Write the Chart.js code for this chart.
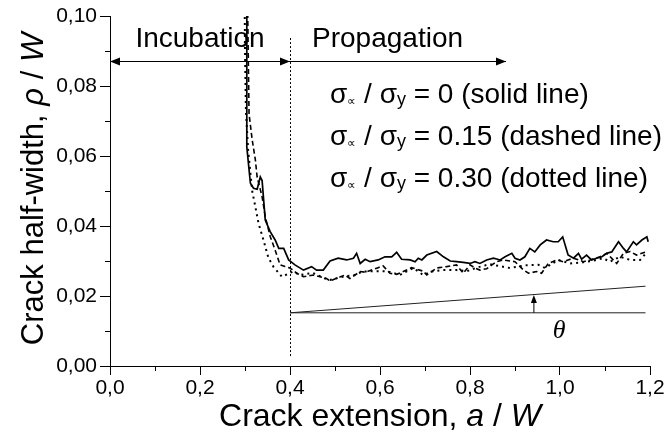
<!DOCTYPE html>
<html>
<head>
<meta charset="utf-8">
<script src="https://cdn.jsdelivr.net/npm/chart.js@4.4.1/dist/chart.umd.min.js"></script>
<style>
  body { margin: 0; background: #fff; }
</style>
</head>
<body>
<canvas id="myChart" width="666" height="439"></canvas>
<script>
// sigma / sigma_y = 0 (solid line)
const solidX = [0.304, 0.304, 0.312, 0.319, 0.327, 0.334, 0.338, 0.345, 0.356, 0.367, 0.375, 0.386, 0.397, 0.411, 0.430, 0.448, 0.459, 0.474, 0.489, 0.507, 0.526, 0.541, 0.548, 0.556, 0.567, 0.578, 0.596, 0.611, 0.626, 0.637, 0.648, 0.667, 0.678, 0.685, 0.693, 0.704, 0.726, 0.741, 0.756, 0.770, 0.785, 0.800, 0.811, 0.822, 0.837, 0.852, 0.867, 0.878, 0.893, 0.900, 0.911, 0.922, 0.933, 0.944, 0.956, 0.970, 0.985, 0.996, 1.006, 1.018, 1.030, 1.041, 1.048, 1.059, 1.070, 1.081, 1.093, 1.104, 1.115, 1.130, 1.141, 1.148, 1.163, 1.170, 1.182, 1.193, 1.196];
const solidY = [0.110, 0.0626, 0.0522, 0.0508, 0.0505, 0.0540, 0.0530, 0.0417, 0.0384, 0.0360, 0.0336, 0.0336, 0.0303, 0.0289, 0.0274, 0.0284, 0.0274, 0.0274, 0.0300, 0.0308, 0.0303, 0.0308, 0.0322, 0.0293, 0.0305, 0.0298, 0.0303, 0.0312, 0.0312, 0.0325, 0.0305, 0.0303, 0.0298, 0.0308, 0.0303, 0.0317, 0.0327, 0.0312, 0.0300, 0.0298, 0.0296, 0.0293, 0.0298, 0.0293, 0.0303, 0.0308, 0.0303, 0.0312, 0.0322, 0.0308, 0.0303, 0.0312, 0.0336, 0.0326, 0.0346, 0.0360, 0.0355, 0.0355, 0.0369, 0.0317, 0.0308, 0.0322, 0.0305, 0.0317, 0.0303, 0.0308, 0.0312, 0.0322, 0.0326, 0.0355, 0.0336, 0.0326, 0.0355, 0.0346, 0.0360, 0.0369, 0.0355];

// 0.15 (dashed line)
const dashedX = [0.305, 0.309, 0.316, 0.323, 0.327, 0.338, 0.345, 0.356, 0.367, 0.378, 0.389, 0.400, 0.415, 0.430, 0.452, 0.481, 0.489, 0.522, 0.533, 0.556, 0.567, 0.596, 0.607, 0.622, 0.637, 0.659, 0.670, 0.696, 0.704, 0.726, 0.748, 0.770, 0.785, 0.800, 0.811, 0.822, 0.837, 0.859, 0.874, 0.900, 0.919, 0.930, 0.948, 0.959, 0.974, 0.993, 1.007, 1.018, 1.030, 1.052, 1.067, 1.089, 1.104, 1.126, 1.141, 1.156, 1.170, 1.193];
const dashedY = [0.110, 0.0720, 0.0646, 0.0589, 0.0540, 0.0484, 0.0427, 0.0370, 0.0331, 0.0289, 0.0284, 0.0280, 0.0265, 0.0255, 0.0260, 0.0250, 0.0243, 0.0260, 0.0250, 0.0270, 0.0268, 0.0281, 0.0286, 0.0265, 0.0262, 0.0274, 0.0281, 0.0271, 0.0260, 0.0280, 0.0284, 0.0289, 0.0265, 0.0289, 0.0280, 0.0274, 0.0278, 0.0298, 0.0303, 0.0298, 0.0274, 0.0265, 0.0270, 0.0265, 0.0293, 0.0303, 0.0298, 0.0303, 0.0308, 0.0298, 0.0303, 0.0312, 0.0322, 0.0293, 0.0322, 0.0327, 0.0317, 0.0327];

// 0.30 (dotted line)
const dottedX = [0.299, 0.300, 0.302, 0.307, 0.316, 0.323, 0.330, 0.341, 0.352, 0.363, 0.382, 0.407, 0.422, 0.451, 0.478, 0.489, 0.518, 0.544, 0.562, 0.593, 0.615, 0.629, 0.644, 0.674, 0.696, 0.718, 0.740, 0.770, 0.793, 0.815, 0.844, 0.867, 0.889, 0.911, 0.926, 0.952, 0.967, 0.996, 1.022, 1.044, 1.070, 1.096, 1.111, 1.133, 1.156, 1.178, 1.193];
const dottedY = [0.110, 0.0900, 0.0730, 0.0617, 0.0500, 0.0455, 0.0408, 0.0360, 0.0309, 0.0284, 0.0255, 0.0270, 0.0260, 0.0266, 0.0250, 0.0246, 0.0255, 0.0260, 0.0270, 0.0271, 0.0271, 0.0266, 0.0260, 0.0280, 0.0260, 0.0271, 0.0274, 0.0274, 0.0271, 0.0281, 0.0291, 0.0285, 0.0280, 0.0285, 0.0288, 0.0289, 0.0280, 0.0303, 0.0293, 0.0295, 0.0300, 0.0308, 0.0298, 0.0312, 0.0303, 0.0303, 0.0325];

const xTickLabels = ["0,0", "0,2", "0,4", "0,6", "0,8", "1,0", "1,2"];
const yTickLabels = ["0,00", "0,02", "0,04", "0,06", "0,08", "0,10"];
const legendValues = ["0 (solid line)", "0.15 (dashed line)", "0.30 (dotted line)"];

const FONT = "'Liberation Sans', Arial, sans-serif";

function toPoints(xs, ys) {
  return xs.map((x, i) => ({ x: x, y: ys[i] }));
}

// draws a row of text pieces with different fonts / offsets
function richText(ctx, x, y, parts, align) {
  let w = 0;
  parts.forEach((p) => { ctx.font = p.font; w += ctx.measureText(p.t).width; });
  if (align === "center") x -= w / 2;
  parts.forEach((p) => {
    ctx.font = p.font;
    ctx.fillText(p.t, x, y + (p.dy || 0));
    x += ctx.measureText(p.t).width;
  });
}

function arrowHead(ctx, x, y, angle, len, half) {
  ctx.save();
  ctx.translate(x, y);
  ctx.rotate(angle);
  ctx.beginPath();
  ctx.moveTo(0, 0);
  ctx.lineTo(-len, -half);
  ctx.lineTo(-len, half);
  ctx.closePath();
  ctx.fill();
  ctx.restore();
}

const notes = {
  id: "notes",
  afterDraw(chart) {
    const ctx = chart.ctx;
    const area = chart.chartArea;
    const X = (v) => chart.scales.x.getPixelForValue(v);
    const Y = (v) => chart.scales.y.getPixelForValue(v);
    ctx.save();
    ctx.strokeStyle = "#000";
    ctx.fillStyle = "#000";
    ctx.lineWidth = 1;

    // minor ticks
    ctx.beginPath();
    for (let i = 1; i < 12; i += 2) {
      const x = Math.round(X(i / 10)) + 0.5;
      ctx.moveTo(x, area.bottom);
      ctx.lineTo(x, area.bottom + 5);
    }
    for (let i = 1; i < 10; i += 2) {
      const y = Math.round(Y(i / 100)) + 0.5;
      ctx.moveTo(area.left - 5, y);
      ctx.lineTo(area.left, y);
    }
    ctx.stroke();

    // dotted divider at a/W = 0.4
    ctx.setLineDash([2, 2]);
    ctx.beginPath();
    ctx.moveTo(Math.round(X(0.4)) + 0.5, Y(0.0937));
    ctx.lineTo(Math.round(X(0.4)) + 0.5, Y(0.0023));
    ctx.stroke();
    ctx.setLineDash([]);

    // incubation / propagation arrows
    const ay = Math.round(Y(0.0872)) + 0.5;
    ctx.beginPath();
    ctx.moveTo(X(0), ay);
    ctx.lineTo(X(0.88), ay);
    ctx.stroke();
    arrowHead(ctx, X(0), ay, Math.PI, 10, 4);
    arrowHead(ctx, X(0.4), ay, 0, 10, 4);
    arrowHead(ctx, X(0.88), ay, 0, 10, 4);

    ctx.textBaseline = "alphabetic";
    ctx.font = "28px " + FONT;
    ctx.textAlign = "center";
    ctx.fillText("Incubation", X(0.2), Y(0.0911));
    ctx.textAlign = "left";
    ctx.fillText("Propagation", X(0.449), Y(0.0911));

    // legend text
    const big = "28px " + FONT;
    legendValues.forEach((v, i) => {
      richText(ctx, X(0.489), Y(0.0751 - i * 0.012), [
        { t: "σ", font: big },
        { t: "∝", font: "12px " + FONT, dy: 2 },
        { t: " / σ", font: big },
        { t: "y", font: "18px " + FONT, dy: 2 },
        { t: " = " + v, font: big }
      ]);
    });

    // angle sketch
    ctx.strokeStyle = "#222";
    ctx.beginPath();
    ctx.moveTo(X(0.4), Y(0.0152));
    ctx.lineTo(X(1.19), Y(0.0152));
    ctx.moveTo(X(0.4), Y(0.0152));
    ctx.lineTo(X(1.19), Y(0.0228));
    ctx.stroke();
    ctx.strokeStyle = "#000";
    ctx.beginPath();
    ctx.moveTo(X(0.942), Y(0.0152));
    ctx.lineTo(X(0.942), Y(0.0185));
    ctx.stroke();
    arrowHead(ctx, X(0.942), Y(0.0203), -Math.PI / 2, 8, 3);
    ctx.font = "italic 26px 'Liberation Serif', serif";
    ctx.textAlign = "center";
    ctx.fillText("θ", X(0.998), Y(0.008));

    // axis titles
    ctx.textAlign = "left";
    const t = "32px " + FONT, ti = "italic 32px " + FONT;
    richText(ctx, (area.left + area.right) / 2, 426, [
      { t: "Crack extension, ", font: t },
      { t: "a", font: ti },
      { t: " / ", font: t },
      { t: "W", font: ti }
    ], "center");
    const ty = "31px " + FONT, tyi = "italic 31px " + FONT;
    ctx.translate(43, (area.top + area.bottom) / 2 - 2);
    ctx.rotate(-Math.PI / 2);
    richText(ctx, 0, 0, [
      { t: "Crack half-width, ", font: ty },
      { t: "ρ", font: tyi },
      { t: " / ", font: ty },
      { t: "W", font: tyi }
    ], "center");
    ctx.restore();
  }
};

const lineStyle = {
  borderColor: "#000",
  pointRadius: 0,
  tension: 0,
  fill: false
};

const data = {
  datasets: [
    Object.assign({ label: "0", data: toPoints(solidX, solidY), borderWidth: 1.7 }, lineStyle),
    Object.assign({ label: "0.15", data: toPoints(dashedX, dashedY), borderWidth: 1.6, borderDash: [5, 3] }, lineStyle),
    Object.assign({ label: "0.30", data: toPoints(dottedX, dottedY), borderWidth: 2, borderDash: [2, 4] }, lineStyle)
  ]
};

const config = {
  type: "line",
  data,
  options: {
    responsive: false,
    animation: false,
    layout: { padding: { top: 16, right: 16, left: 0, bottom: 0 } },
    plugins: { legend: { display: false }, tooltip: { enabled: false } },
    scales: {
      x: {
        type: "linear",
        min: 0,
        max: 1.2,
        border: { display: true, color: "#000", width: 1 },
        grid: { drawOnChartArea: false, color: "#000", tickLength: 9 },
        ticks: {
          stepSize: 0.2,
          autoSkip: false,
          maxRotation: 0,
          padding: 1,
          color: "#000",
          font: { family: FONT, size: 21 },
          callback: (v) => xTickLabels[Math.round(v / 0.2)]
        },
        afterFit: (scale) => { scale.height = 73; }
      },
      y: {
        min: 0,
        max: 0.1,
        border: { display: true, color: "#000", width: 1 },
        grid: { drawOnChartArea: false, color: "#000", tickLength: 10 },
        ticks: {
          stepSize: 0.02,
          autoSkip: false,
          padding: 3,
          color: "#000",
          font: { family: FONT, size: 21 },
          callback: (v) => yTickLabels[Math.round(v / 0.02)]
        },
        afterFit: (scale) => { scale.width = 110; }
      }
    }
  },
  plugins: [notes]
};

const myChart = new Chart(document.getElementById("myChart"), config);
</script>
</body>
</html>
